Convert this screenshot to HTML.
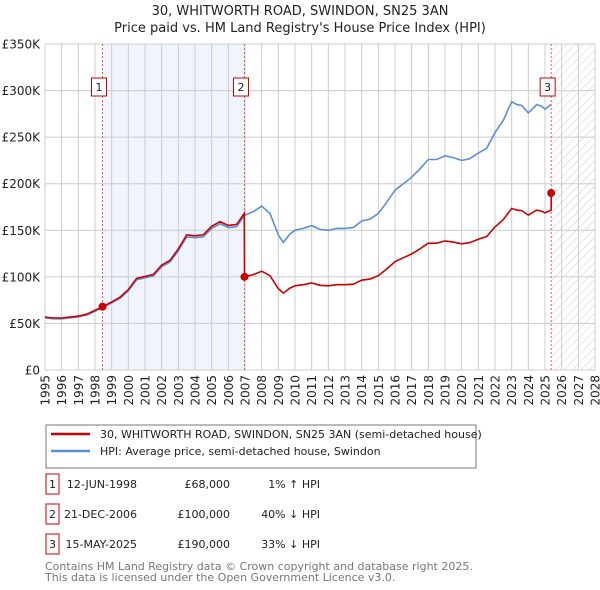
<!DOCTYPE html>
<html><head><meta charset="utf-8"><style>
body{margin:0;background:#fff;font-family:"DejaVu Sans","Liberation Sans",sans-serif;}
svg{display:block}
</style></head><body>
<svg id="chart" width="600" height="590" viewBox="0 0 600 590" xmlns="http://www.w3.org/2000/svg" font-family="DejaVu Sans, Liberation Sans, sans-serif">
<defs><pattern id="hatch" width="6" height="6" patternUnits="userSpaceOnUse" patternTransform="rotate(45)"><line x1="0" y1="0" x2="0" y2="6" stroke="#ccc" stroke-width="1"/></pattern></defs>
<text x="300" y="15" text-anchor="middle" font-size="13" fill="#222">30, WHITWORTH ROAD, SWINDON, SN25 3AN</text>
<text x="300" y="32" text-anchor="middle" font-size="13" fill="#222">Price paid vs. HM Land Registry's House Price Index (HPI)</text>
<g id="plot"></g>
<g>
<rect x="46" y="425" width="430" height="43" fill="#fff" stroke="#777"/>
<line x1="51" y1="434" x2="90" y2="434" stroke="#cc0000" stroke-width="2.5"/>
<text x="100" y="438" font-size="11" fill="#222">30, WHITWORTH ROAD, SWINDON, SN25 3AN (semi-detached house)</text>
<line x1="51" y1="451" x2="90" y2="451" stroke="#5b8fd0" stroke-width="2.5"/>
<text x="100" y="455" font-size="11" fill="#222">HPI: Average price, semi-detached house, Swindon</text>
</g>
<g id="table" font-size="11" fill="#222"></g>
<text x="45" y="570" font-size="11" fill="#777">Contains HM Land Registry data © Crown copyright and database right 2025.</text>
<text x="45" y="581" font-size="11" fill="#777">This data is licensed under the Open Government Licence v3.0.</text>
</svg>
<script>
const hpiYears=[1995,1995.5,1996,1996.5,1997,1997.5,1998,1998.45,1999,1999.5,2000,2000.5,2001,2001.5,2002,2002.5,2003,2003.5,2004,2004.5,2005,2005.5,2006,2006.5,2006.97,2007.5,2008,2008.5,2009,2009.3,2009.7,2010,2010.5,2011,2011.5,2012,2012.5,2013,2013.5,2014,2014.5,2015,2015.5,2016,2016.5,2017,2017.5,2018,2018.5,2019,2019.5,2020,2020.5,2021,2021.5,2022,2022.5,2023,2023.3,2023.6,2024,2024.5,2024.8,2025,2025.37];
const hpiValues=[56,55,55,56,57,59,63,67,72,77,85,97,99,101,111,116,128,143,142,143,152,157,153,154,166,170,176,168,145,137,146,150,152,155,151,150,152,152,153,160,162,168,180,193,200,207,216,226,226,230,228,225,227,233,238,255,268,288,285,284,276,285,283,280,285];
const sales=[{t:1998.45,v:68},{t:2006.97,v:100},{t:2025.37,v:190}];
const saleLabels=["1","2","3"];
const saleDates=["12-JUN-1998","21-DEC-2006","15-MAY-2025"];
const salePrices=["£68,000","£100,000","£190,000"];
const saleHpi=["1% ↑ HPI","40% ↓ HPI","33% ↓ HPI"];
const yTicks=[0,50,100,150,200,250,300,350];
const yTickLabels=["£0","£50K","£100K","£150K","£200K","£250K","£300K","£350K"];
const x0=45,x1=595,y0=370,y1=44,tMin=1995,tMax=2028,vMax=350;
const X=t=>x0+(t-tMin)/(tMax-tMin)*(x1-x0);
const Y=v=>y0-v/vMax*(y0-y1);
const NS="http://www.w3.org/2000/svg";
const plot=document.getElementById('plot');
function mk(tag,attrs,parent){const e=document.createElementNS(NS,tag);for(const k in attrs)e.setAttribute(k,attrs[k]);(parent||plot).appendChild(e);return e;}
function interp(t){for(let i=1;i<hpiYears.length;i++){if(t<=hpiYears[i]){const a=hpiYears[i-1],b=hpiYears[i];return hpiValues[i-1]+(hpiValues[i]-hpiValues[i-1])*(t-a)/(b-a);}}return hpiValues[hpiValues.length-1];}
let r=mk('rect',{x:X(sales[0].t),y:y1,width:X(sales[1].t)-X(sales[0].t),height:y0-y1,fill:'#f0f4fd'});


r=mk('rect',{x:X(sales[2].t),y:y1,width:x1-X(sales[2].t),height:y0-y1,fill:'url(#hatch)'});


for(let yr=tMin;yr<=tMax;yr++){const l=mk('line',{x1:X(yr),x2:X(yr),y1:y1,y2:y0,stroke:'#ccc','stroke-width':1});


const tx=mk('text',{x:0,y:0,'font-size':12,fill:'#222','text-anchor':'end',transform:`translate(${X(yr)+4.5},375) rotate(-90)`});tx.textContent=yr;

}
yTicks.forEach((v,i)=>{const l=mk('line',{x1:x0,x2:x1,y1:Y(v),y2:Y(v),stroke:'#ccc','stroke-width':1});


const tx=mk('text',{x:40,y:Y(v)+4.5,'font-size':12,fill:'#222','text-anchor':'end'});tx.textContent=yTickLabels[i];

});
sales.forEach((s,i)=>{const l=mk('line',{x1:X(s.t),x2:X(s.t),y1:y1,y2:y0,stroke:'#e06060','stroke-width':1,'stroke-dasharray':'2,2'});


const bx=mk('rect',{x:X(s.t)-11,y:78,width:15,height:18,fill:'#fff',stroke:'#cc0000'});


const tx=mk('text',{x:X(s.t)-3.5,y:91,'font-size':11,fill:'#222','text-anchor':'middle'});tx.textContent=saleLabels[i];

});
let d=hpiYears.map((t,i)=>(i?'L':'M')+X(t).toFixed(1)+','+Y(hpiValues[i]).toFixed(1)).join('');
let p=mk('path',{d:d,fill:'none',stroke:'#5b8fd0','stroke-width':1.6});


let pts=[];
hpiYears.forEach((t,i)=>{let v;if(t<sales[1].t)v=hpiValues[i]*sales[0].v/interp(sales[0].t);else v=hpiValues[i]*sales[1].v/interp(sales[1].t);pts.push([t,v]);});
pts.push([sales[0].t,sales[0].v]);
pts.push([sales[1].t-0.01,interp(sales[1].t-0.01)*sales[0].v/interp(sales[0].t)]);
pts.push([sales[1].t,sales[1].v]);
pts.push([sales[2].t-0.01,interp(sales[2].t-0.01)*sales[1].v/interp(sales[1].t)]);
pts.push([sales[2].t,sales[2].v]);
pts.sort((a,b)=>a[0]-b[0]);
d=pts.map((q,i)=>(i?'L':'M')+X(q[0]).toFixed(1)+','+Y(q[1]).toFixed(1)).join('');
p=mk('path',{d:d,fill:'none',stroke:'#cc0000','stroke-width':1.6});


sales.forEach(s=>{const c=mk('circle',{cx:X(s.t),cy:Y(s.v),r:4,fill:'#cc0000'});

});
const tb=document.getElementById('table');
const rowY=[483,513,543];
sales.forEach((s,i)=>{const b=mk('rect',{x:46,y:rowY[i]-9,width:13,height:20,fill:'#fff',stroke:'#cc0000'},tb);


const cols=[[52.5,saleLabels[i],'middle'],[137,saleDates[i],'end'],[230,salePrices[i],'end'],[320,saleHpi[i],'end']];
cols.forEach(c=>{const t=mk('text',{x:c[0],y:rowY[i]+5,'text-anchor':c[2]},tb);t.textContent=c[1];

});});
</script>
</body></html>
